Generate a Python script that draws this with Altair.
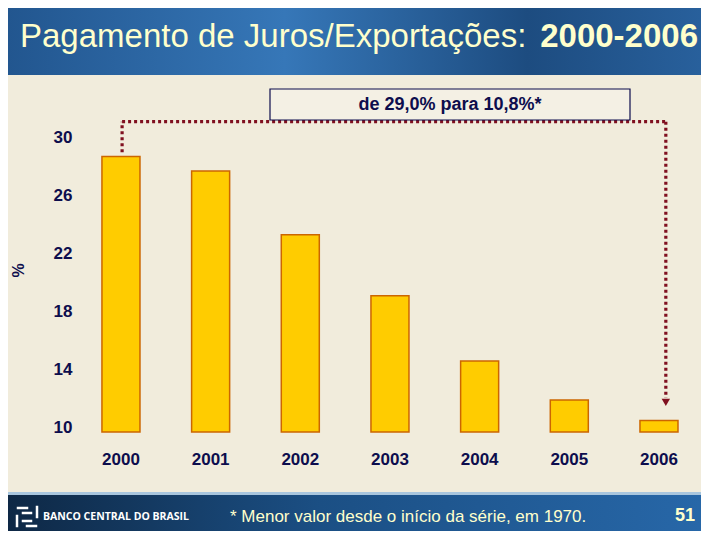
import altair as alt
import pandas as pd

# ---- data ----
years = ["2000", "2001", "2002", "2003", "2004", "2005", "2006"]
values = [29.0, 28.0, 23.6, 19.4, 14.9, 12.2, 10.8]
y_ticks = [10, 14, 18, 22, 26, 30]
title_main = "Pagamento de Juros/Exportações:"
title_years = "2000-2006"
box_text = "de 29,0% para 10,8%*"
footnote = "* Menor valor desde o início da série, em 1970."
page_no = "51"
bank = "BANCO CENTRAL DO BRASIL"

# connector (annotation) levels in data units
conn_top = 31.4
conn_start = 29.3
conn_end = 12.35
arrow_y = 12.05

NAVY = "#0d0d4d"
YELLOW_TXT = "#ffffcc"
FONT = "Liberation Sans"

df = pd.DataFrame({"year": years, "value": values})
one = pd.DataFrame({"a": [0]})

W, H = 625, 290
PAD = {"left": 68, "top": 134, "right": 0, "bottom": 99}

xscale = alt.Scale(domain=years, paddingInner=0.576, paddingOuter=0.273, align=0.53)
yscale = alt.Scale(domain=[10, 30], nice=False, zero=False)

# ---- decorations ----
header_grad = alt.LinearGradient(
    gradient="linear",
    stops=[
        alt.GradientStop(color="#22568f", offset=0),
        alt.GradientStop(color="#3677b8", offset=0.4),
        alt.GradientStop(color="#1d4c80", offset=0.75),
        alt.GradientStop(color="#28609c", offset=1),
    ],
    x1=0, x2=1, y1=0, y2=0,
)
footer_grad = alt.LinearGradient(
    gradient="linear",
    stops=[
        alt.GradientStop(color="#0e2845", offset=0),
        alt.GradientStop(color="#1b4f84", offset=0.45),
        alt.GradientStop(color="#2767a8", offset=1),
    ],
    x1=0, x2=1, y1=0, y2=0,
)

header = alt.Chart(one).mark_rect(fill=header_grad).encode(
    x=alt.value(-PAD["left"]), x2=alt.value(W + PAD["right"]),
    y=alt.value(-PAD["top"]), y2=alt.value(-67),
)
footer_line = alt.Chart(one).mark_rect(fill="#a9c6de").encode(
    x=alt.value(-PAD["left"]), x2=alt.value(W + PAD["right"]),
    y=alt.value(350), y2=alt.value(353),
)
footer = alt.Chart(one).mark_rect(fill=footer_grad).encode(
    x=alt.value(-PAD["left"]), x2=alt.value(W + PAD["right"]),
    y=alt.value(353), y2=alt.value(H + PAD["bottom"]),
)

title1 = alt.Chart(one).mark_text(
    align="left", baseline="middle", font=FONT, fontSize=33, color=YELLOW_TXT
).encode(x=alt.value(-56), y=alt.value(-105), text=alt.value(title_main))
title2 = alt.Chart(one).mark_text(
    align="right", baseline="middle", font=FONT, fontSize=33, fontWeight="bold", color=YELLOW_TXT
).encode(x=alt.value(622), y=alt.value(-105), text=alt.value(title_years))

box = alt.Chart(one).mark_rect(fill="#f4f0e4", stroke=NAVY, strokeWidth=1.2).encode(
    x=alt.value(194), x2=alt.value(554), y=alt.value(-53), y2=alt.value(-22)
)
box_t = alt.Chart(one).mark_text(
    align="center", baseline="middle", font=FONT, fontSize=18, fontWeight="bold", color=NAVY
).encode(x=alt.value(374), y=alt.value(-37), text=alt.value(box_text))

foot_t = alt.Chart(one).mark_text(
    align="left", baseline="middle", font=FONT, fontSize=17, color=YELLOW_TXT
).encode(x=alt.value(154), y=alt.value(375), text=alt.value(footnote))
page_t = alt.Chart(one).mark_text(
    align="right", baseline="middle", font=FONT, fontSize=18, fontWeight="bold", color=YELLOW_TXT
).encode(x=alt.value(619), y=alt.value(374), text=alt.value(page_no))
bank_t = alt.Chart(one).mark_text(
    align="left", baseline="middle", font="Open Sans", fontSize=10.5, fontWeight="bold", color="white"
).encode(x=alt.value(-33), y=alt.value(375), text=alt.value(bank))

# simple pinwheel logo (decoration)
logo_style = dict(color="white", strokeWidth=2.5, strokeCap="square")
logo = [
    alt.Chart(one).mark_rule(**logo_style).encode(
        x=alt.value(-58), x2=alt.value(-49), y=alt.value(366), y2=alt.value(366)),
    alt.Chart(one).mark_rule(**logo_style).encode(
        x=alt.value(-39), x2=alt.value(-39), y=alt.value(365), y2=alt.value(375)),
    alt.Chart(one).mark_rule(**logo_style).encode(
        x=alt.value(-49), x2=alt.value(-40), y=alt.value(384), y2=alt.value(384)),
    alt.Chart(one).mark_rule(**logo_style).encode(
        x=alt.value(-59), x2=alt.value(-59), y=alt.value(374), y2=alt.value(384)),
    alt.Chart(one).mark_rule(**logo_style).encode(
        x=alt.value(-53), x2=alt.value(-45), y=alt.value(371), y2=alt.value(371)),
    alt.Chart(one).mark_rule(**logo_style).encode(
        x=alt.value(-53), x2=alt.value(-45), y=alt.value(379), y2=alt.value(379)),
]

# ---- bars ----
bars = alt.Chart(df).mark_bar(fill="#ffcc00", stroke="#cc6600", strokeWidth=1.5).encode(
    x=alt.X("year:N", scale=xscale, sort=years, title=None,
            axis=alt.Axis(labelFont=FONT, labelFontSize=17, labelFontWeight="bold",
                          labelColor=NAVY, labelAngle=0, ticks=False, domain=False,
                          grid=False, labelPadding=19)),
    y=alt.Y("value:Q", scale=yscale,
            axis=alt.Axis(values=y_ticks, labelFont=FONT, labelFontSize=17,
                          labelFontWeight="bold", labelColor=NAVY, ticks=False,
                          domain=False, grid=False, labelPadding=4, labelOffset=-5,
                          title="%", titleFont=FONT, titleFontSize=16, titleFontWeight="bold",
                          titleColor=NAVY, titleX=-58, titleY=128, titleAngle=270,
                          titleAlign="center", titleBaseline="middle")),
    y2=alt.datum(10),
)

# ---- connector (dotted) ----
conn_df = pd.DataFrame({
    "year": [years[0], years[-1]],
    "ya": [conn_start, conn_top],
    "yb": [conn_top, conn_end],
})
dot = dict(color="#801020", strokeWidth=3.2, strokeDash=[3, 3], strokeCap="butt")
left_v = alt.Chart(conn_df.iloc[[0]]).mark_rule(**dot).encode(
    x=alt.X("year:N", bandPosition=0.53, scale=xscale, sort=years),
    y=alt.Y("ya:Q", scale=yscale), y2="yb:Q",
)
right_v = alt.Chart(conn_df.iloc[[1]]).mark_rule(**dot).encode(
    x=alt.X("year:N", bandPosition=0.68, scale=xscale, sort=years),
    y=alt.Y("ya:Q", scale=yscale), y2="yb:Q",
)
horiz_df = pd.DataFrame({"y0": [years[0]], "y1": [years[-1]], "v": [conn_top]})
horiz = alt.Chart(horiz_df).mark_rule(**dot).encode(
    x=alt.X("y0:N", bandPosition=0.53, scale=xscale, sort=years),
    x2=alt.X2("y1:N", bandPosition=0.68),
    y=alt.Y("v:Q", scale=yscale),
)
arrow_df = pd.DataFrame({"year": [years[-1]], "v": [arrow_y]})
arrow = alt.Chart(arrow_df).mark_point(
    shape="triangle-down", filled=True, color="#801020", size=70, opacity=1
).encode(
    x=alt.X("year:N", bandPosition=0.68, scale=xscale, sort=years),
    y=alt.Y("v:Q", scale=yscale),
)

chart = alt.layer(
    header, footer_line, footer, title1, title2, foot_t, page_t, bank_t, *logo,
    bars, left_v, horiz, right_v, arrow, box, box_t,
).properties(
    width=W, height=H, padding=PAD,
    autosize=alt.AutoSizeParams(type="none"),
    background="#f1ecdc",
).configure_view(stroke=None)

chart.save("out.html", embed_options={"renderer": "svg", "actions": False})
